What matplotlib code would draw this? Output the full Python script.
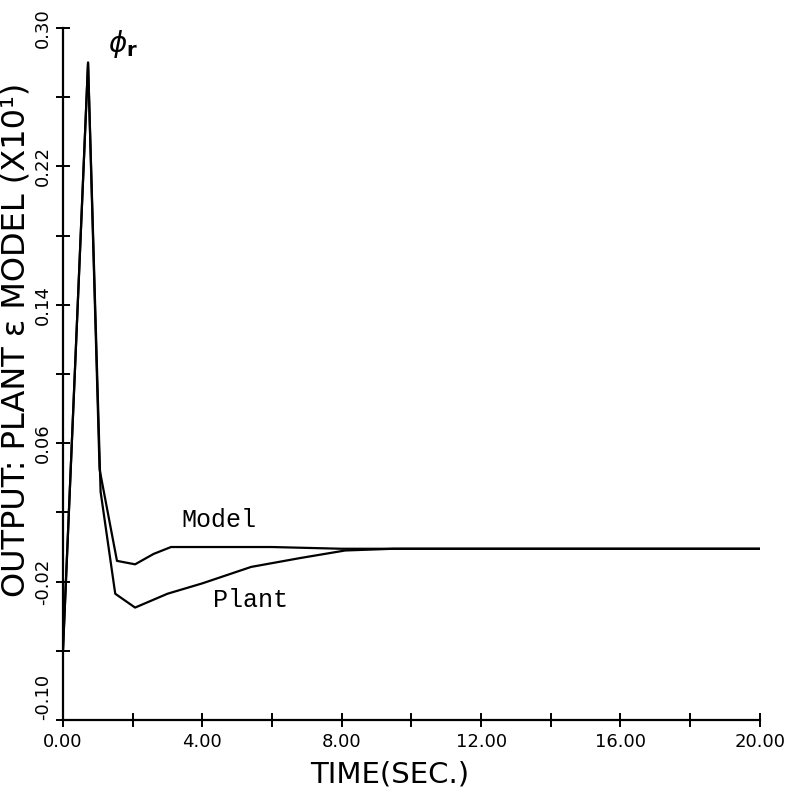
import numpy as np
import matplotlib
matplotlib.use('Agg')
import matplotlib.pyplot as plt
from matplotlib.ticker import FixedLocator
from matplotlib import font_manager

# model response
t_model = [0.0, 0.72, 1.05, 1.55, 2.07, 2.6, 3.1, 4.0, 6.0, 8.0, 10.0, 14.0, 20.0]
y_model = [-0.06, 0.28, 0.045, -0.008, -0.010, -0.004, 0.0, 0.0, 0.0, -0.001, -0.001, -0.001, -0.001]

# plant response
t_plant = [0.0, 0.72, 1.08, 1.5, 2.07, 3.0, 4.0, 5.4, 6.8, 8.1, 9.5, 14.0, 20.0]
y_plant = [-0.06, 0.28, 0.032, -0.027, -0.035, -0.027, -0.021, -0.0115, -0.0064, -0.002, -0.001, -0.001, -0.001]

x_ticks = [0, 4, 8, 12, 16, 20]
x_minor = [2, 6, 10, 14, 18]
x_labels = ['0.00', '4.00', '8.00', '12.00', '16.00', '20.00']
y_ticks = [-0.10, -0.02, 0.06, 0.14, 0.22, 0.30]
y_minor = [-0.06, 0.02, 0.10, 0.18, 0.26]
y_labels = ['-0.10', '-0.02', '0.06', '0.14', '0.22', '0.30']

names = set(f.name for f in font_manager.fontManager.ttflist)
narrow = 'Liberation Sans Narrow' if 'Liberation Sans Narrow' in names else 'DejaVu Sans'
print(narrow)

fig = plt.figure(figsize=(7.94, 7.87), dpi=100)
ax = fig.add_axes([0.0793, 0.0851, 0.8777, 0.8793])

ax.plot(t_model, y_model, color='black', lw=1.6)
ax.plot(t_plant, y_plant, color='black', lw=1.6)

ax.set_xlim(0, 20)
ax.set_ylim(-0.10, 0.30)

ax.spines['top'].set_visible(False)
ax.spines['right'].set_visible(False)
ax.spines['left'].set_linewidth(1.6)
ax.spines['bottom'].set_linewidth(1.6)

ax.set_xticks(x_ticks)
ax.set_xticklabels(x_labels, fontsize=13, family=narrow)
ax.xaxis.set_minor_locator(FixedLocator(x_minor))
ax.set_yticks(y_ticks)
ax.set_yticklabels(y_labels, fontsize=13, family=narrow, rotation=90, va='center')
ax.get_yticklabels()[0].set_va('bottom')
ax.yaxis.set_minor_locator(FixedLocator(y_minor))
ax.tick_params(which='both', direction='inout', length=10, width=1.4)
ax.tick_params(axis='x', pad=4)
ax.tick_params(axis='y', pad=3)

ax.set_xlabel('TIME(SEC.)', fontsize=21, family=narrow)
ax.xaxis.set_label_coords(0.469, -0.058)
ax.set_ylabel('OUTPUT: PLANT \u03b5 MODEL (X10\u00b9)', fontsize=23, family=narrow)
ax.yaxis.set_label_coords(-0.045, 0.549)

ax.text(1.3, 0.291, r'$\phi_\mathbf{r}$', fontsize=20, va='center')
ax.text(3.4, 0.0156, 'Model', fontsize=18, family='Liberation Mono', va='center')
ax.text(4.3, -0.0306, 'Plant', fontsize=18, family='Liberation Mono', va='center')

fig.savefig('out.png', dpi=100)
